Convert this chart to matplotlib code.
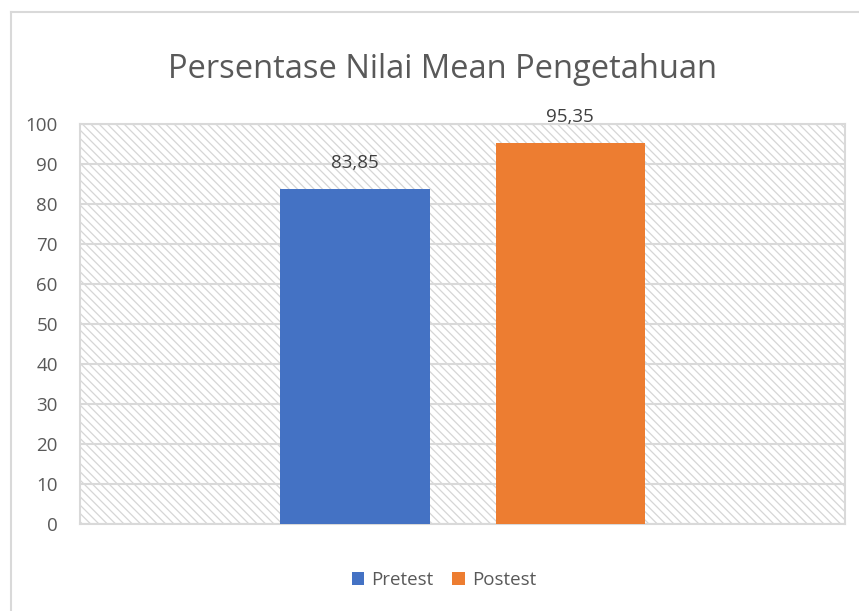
import matplotlib.pyplot as plt
from matplotlib.patches import Rectangle
from matplotlib.lines import Line2D

series = ['Pretest', 'Postest']
values = [83.85, 95.35]
labels = ['83,85', '95,35']
colors = ['#4472C4', '#ED7D31']
yticks = [0, 10, 20, 30, 40, 50, 60, 70, 80, 90, 100]

plt.rcParams['font.family'] = ['Open Sans', 'DejaVu Sans']
plt.rcParams['hatch.linewidth'] = 0.9

W, H = 859, 611
fig = plt.figure(figsize=(W / 100, H / 100), dpi=100)
ax = fig.add_axes([80 / W, 1 - 524 / H, 765 / W, 400 / H])

# outer chart border (left and top only visible)
fig.add_artist(Line2D([11 / W, 11 / W], [0, 1 - 12 / H], transform=fig.transFigure,
                      color='#d9d9d9', lw=1.5))
fig.add_artist(Line2D([11 / W, 1], [1 - 12 / H, 1 - 12 / H], transform=fig.transFigure,
                      color='#d9d9d9', lw=1.5))

# hatched plot area background
ax.add_patch(Rectangle((0, 0), 1, 1, transform=ax.transAxes, facecolor='white',
                       edgecolor='#d6d6d6', hatch='\\\\\\\\', lw=0, zorder=0))

width = 0.195
offsets = [-0.1405, 0.141]
for s, v, lab, c, off in zip(series, values, labels, colors, offsets):
    ax.bar(off, v, width=width, color=c, label=s, zorder=3)
    ax.text(off, v + 4.2, lab, ha='center', va='bottom', fontsize=13.5, color='#404040')

ax.set_xlim(-0.5, 0.5)
ax.set_ylim(0, 100)
ax.set_yticks(yticks)
ax.set_xticks([])
ax.yaxis.grid(True, color='#d9d9d9', lw=1.5, zorder=1)
ax.set_axisbelow(True)
ax.tick_params(axis='y', length=0, labelsize=13.5, labelcolor='#595959', pad=16)
for sp in ax.spines.values():
    sp.set_color('#d9d9d9')
    sp.set_linewidth(1.5)

fig.text(442 / W, 1 - 69 / H, 'Persentase Nilai Mean Pengetahuan', ha='center', va='center',
         fontsize=23.5, color='#595959')

ax.legend(loc='center', bbox_to_anchor=(444 / W, 1 - 580 / H), bbox_transform=fig.transFigure,
          ncol=2, frameon=False, fontsize=13.5, handlelength=0.65, handleheight=0.65,
          handletextpad=0.4, columnspacing=1.0, labelcolor='#595959')

fig.savefig('out.png', dpi=100)
